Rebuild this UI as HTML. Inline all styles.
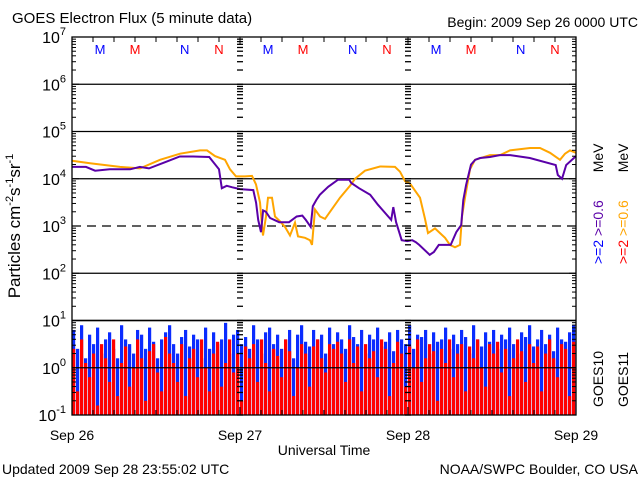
<!DOCTYPE html>
<html><head><meta charset="utf-8"><style>
body{margin:0;background:#fff;width:640px;height:480px;overflow:hidden}
svg{display:block;font-family:"Liberation Sans",sans-serif}
</style></head><body>
<svg id="chart" width="640" height="480" viewBox="0 0 640 480">
<rect width="640" height="480" fill="#fff"/>
<text x="12" y="23" font-size="15">GOES Electron Flux (5 minute data)</text>
<text x="638" y="27" font-size="14" text-anchor="end">Begin: 2009 Sep 26 0000 UTC</text>
<g id="bars"></g>
<g id="grid"></g>
<g id="lines"></g>
<g id="axes"></g>
<text transform="translate(20,226) rotate(-90)" font-size="17" text-anchor="middle">Particles cm<tspan font-size="11" dy="-7">-2</tspan><tspan dy="7">s</tspan><tspan font-size="11" dy="-7">-1</tspan><tspan dy="7">sr</tspan><tspan font-size="11" dy="-7">-1</tspan></text>
<text x="324" y="455" font-size="14" text-anchor="middle">Universal Time</text>
<text x="2" y="474" font-size="14">Updated 2009 Sep 28 23:55:02 UTC</text>
<text x="638" y="474" font-size="14" text-anchor="end">NOAA/SWPC Boulder, CO USA</text>
<g font-size="14">
<text transform="translate(603,264) rotate(-90)"><tspan fill="#0000ff">&gt;=2</tspan><tspan fill="#5a00a8"> &gt;=0.6</tspan><tspan dx="24" fill="#000"> MeV</tspan></text>
<text transform="translate(628,264) rotate(-90)"><tspan fill="#ff0000">&gt;=2</tspan><tspan fill="#ffa500"> &gt;=0.6</tspan><tspan dx="24" fill="#000"> MeV</tspan></text>
<text transform="translate(603,407) rotate(-90)">GOES10</text>
<text transform="translate(628,407) rotate(-90)">GOES11</text>
</g>
</svg>
<script>
const decadeLabels=[-1,0,1,2,3,4,5,6,7];
const dayLabels=["Sep 26","Sep 27","Sep 28","Sep 29"];
const purpleT=[0,2,3.3,5.4,8.3,9.7,11,13.3,15.4,17.3,19.6,21,21.4,22.1,22.9,24,25.9,26.3,26.6,27,27.3,27.7,28.3,29.6,31,32.1,32.9,33.4,34.1,34.4,34.9,35.4,36.6,38,39.6,39.9,41,42.6,43.7,45.6,45.9,46.3,47.1,47.9,48.6,49.1,49.6,51.1,51.7,52.4,54.1,54.9,55.6,55.9,56.3,57,57.6,58.3,59.7,61.1,62.6,65.4,69.1,69.4,70,70.6,72];
const purpleV=[4.25,4.25,4.17,4.2,4.2,4.25,4.22,4.35,4.47,4.47,4.46,4.2,3.8,3.85,3.82,3.78,3.76,3.49,3.13,2.87,3.33,3.3,3.17,3.08,3.08,3.2,3.22,3.13,2.98,3.42,3.55,3.66,3.83,3.98,3.98,3.91,3.8,3.66,3.45,3.13,3.4,3.08,2.7,2.68,2.7,2.66,2.6,2.39,2.45,2.6,2.6,2.87,3.02,3.55,3.87,4.3,4.4,4.44,4.46,4.5,4.5,4.44,4.29,4.08,4.0,4.29,4.48];
const orangeT=[0,2.57,6.86,9.71,12.57,15.43,18.29,19.29,20.43,21.86,22.57,23.43,24.71,25.71,26.29,26.86,27.14,27.29,27.71,28,28.57,29,29.71,30.43,31.14,31.86,32.29,33.29,34,34.29,34.71,35.43,36.14,36.86,38.29,39.71,40.43,41.86,44,46.14,46.86,47.57,48.29,49.71,50.43,50.86,51.86,52.57,53.29,54,54.71,55.43,55.71,56.14,56.86,57.57,59.71,61.14,62.57,65.43,66.86,68.29,69.71,70.43,71.14,72];
const orangeV=[4.38,4.33,4.25,4.22,4.4,4.53,4.6,4.6,4.48,4.4,4.2,4.05,4.05,4.06,3.88,3.5,3.0,2.8,3.2,3.6,3.6,3.2,3.1,2.98,2.8,3.07,2.78,2.75,2.7,2.6,3.35,3.2,3.15,3.3,3.6,3.85,4.0,4.17,4.26,4.25,4.15,3.95,3.9,3.6,3.15,2.85,2.95,2.85,2.75,2.6,2.55,2.6,3.2,3.6,4.2,4.4,4.5,4.5,4.6,4.65,4.65,4.55,4.4,4.53,4.6,4.55];
const blueBars=[0.8,0.4,0.9,0.2,0.7,0.5,0.85,0.3,0.6,0.75,0.4,0.2,0.9,0.6,0.5,0.3,0.8,0.7,0.4,0.85,0.55,0.2,0.6,0.75,0.9,0.5,0.3,0.65,0.8,0.45,0.7,0.6,0.2,0.85,0.4,0.75,0.5,0.6,0.95,0.3,0.7,0.8,0.5,0.65,0.4,0.9,0.6,0.3,0.75,0.85,0.5,0.7,0.4,0.6,0.8,0.2,0.7,0.9,0.55,0.45,0.8,0.6,0.7,0.3,0.85,0.5,0.75,0.6,0.4,0.9,0.65,0.5,0.8,0.3,0.7,0.6,0.85,0.45,0.55,0.75,0.35,0.8,0.6,0.5,0.9,0.4,0.7,0.65,0.8,0.3,0.75,0.55,0.6,0.85,0.4,0.7,0.5,0.8,0.65,0.3,0.9,0.6,0.45,0.75,0.55,0.8,0.4,0.7,0.6,0.85,0.5,0.3,0.75,0.65,0.9,0.45,0.6,0.8,0.5,0.7,0.35,0.85,0.6,0.55,0.75,0.9];
const redBars=[0.4,-0.5,0.6,0.1,-0.2,0.3,-0.8,0.5,0.2,-0.3,0.6,-0.6,0.1,0.45,-0.4,0.0,0.6,0.2,-0.7,0.35,0.5,-0.1,-0.5,0.65,0.3,0.1,-0.3,0.5,-0.6,0.2,0.4,-0.2,0.6,0.0,-0.5,0.3,0.55,-0.4,0.1,0.6,-0.1,0.3,-0.7,0.45,0.2,0.5,-0.3,0.6,0.1,-0.5,0.4,0.25,-0.2,0.6,0.35,-0.6,0.0,0.5,0.3,-0.4,0.45,0.6,0.2,-0.1,0.5,0.4,0.55,0.3,-0.3,0.6,0.1,0.45,-0.5,0.5,0.2,0.35,-0.2,0.6,0.4,-0.6,0.1,0.55,0.3,-0.4,0.45,0.0,0.6,-0.3,0.2,0.5,0.35,-0.7,0.4,0.1,0.6,-0.2,0.3,0.5,-0.5,0.45,0.2,0.6,0.0,-0.4,0.5,0.3,0.55,-0.1,0.4,-0.6,0.2,0.6,0.35,-0.3,0.5,0.1,0.45,-0.5,0.3,0.6,0.2,-0.2,0.5,0.4,-0.6,0.55];
const topLetters=["M","M","N","N"];
const letterHours=[4,9,16.1,21];

const NS="http://www.w3.org/2000/svg";
const X0=72,X1=576,YT=37,YB=415;
const xs=h=>X0+(h/72)*(X1-X0);
const ys=v=>YT+(7-v)*(YB-YT)/8;
function mk(tag,parent,attrs){const e=document.createElementNS(NS,tag);for(const k in attrs)e.setAttribute(k,attrs[k]);parent.appendChild(e);return e;}
const bars=document.getElementById('bars'),grid=document.getElementById('grid'),lines=document.getElementById('lines'),axes=document.getElementById('axes');
const bw=(X1-X0)/blueBars.length;
blueBars.forEach((v,i)=>{const r=mk('rect',bars,{x:X0+i*bw,y:ys(v),width:bw*0.8,height:YB-ys(v),fill:'#0a2cff'});

});
const rw=(X1-X0)/redBars.length;
redBars.forEach((v,i)=>{const r=mk('rect',bars,{x:X0+i*rw,y:ys(v),width:rw*0.8,height:YB-ys(v),fill:'#ff0000'});

});
decadeLabels.forEach(d=>{if(d===-1||d===7)return;const y=ys(d);
const l=mk('line',grid,{x1:X0,x2:X1,y1:y,y2:y,stroke:'#000','stroke-width':1.3});
if(d===3)l.setAttribute('stroke-dasharray','9,6');

});
function path(T,V,color,name){let d='';T.forEach((t,i)=>{d+=(i?'L':'M')+xs(t).toFixed(1)+','+ys(V[i]).toFixed(1);});
const p=mk('path',lines,{d:d,fill:'none',stroke:color,'stroke-width':2});

}
path(orangeT,orangeV,'#ffa500','line-goes11-0.6mev');
path(purpleT,purpleV,'#5a00a8','line-goes10-0.6mev');
const f=mk('rect',axes,{x:X0,y:YT,width:X1-X0,height:YB-YT,fill:'none',stroke:'#000','stroke-width':1.3});


const pt=mk('line',axes,{x1:X0,x2:X1,y1:ys(1),y2:ys(1),stroke:'#000','stroke-width':1.5});


decadeLabels.forEach(d=>{if(d===7)return;for(let m=1;m<10;m++){const y=ys(d+Math.log10(m));const len=m===1?7:4;
[[X0,X0+len],[X1-len,X1]].forEach(([a,b])=>{mk('line',axes,{x1:a,x2:b,y1:y,y2:y,stroke:'#000'});});
[1,2].forEach(k=>{const x=xs(24*k);mk('line',axes,{x1:x-3,x2:x+3,y1:y,y2:y,stroke:'#000','stroke-width':1.3});});}});
for(let h=3;h<72;h+=3){const x=xs(h);const len=h%24===0?8:5;
mk('line',axes,{x1:x,x2:x,y1:YB,y2:YB-len,stroke:'#000'});mk('line',axes,{x1:x,x2:x,y1:YT,y2:YT+len,stroke:'#000'});}
decadeLabels.forEach(d=>{const t=mk('text',axes,{x:66,y:ys(d)+6,'font-size':16,'text-anchor':'end'});


t.textContent='10';const s=mk('tspan',t,{'font-size':11,dy:-8});s.textContent=String(d);});
dayLabels.forEach((s,i)=>{const t=mk('text',axes,{x:xs(24*i),y:440,'font-size':14,'text-anchor':'middle'});


t.textContent=s;});
for(let day=0;day<3;day++)topLetters.forEach((L,i)=>{const t=mk('text',axes,{x:xs(day*24+letterHours[i]),y:54,'font-size':13,'text-anchor':'middle',fill:i%2?'#ff0000':'#0000ff'});


t.textContent=L;});
</script>
</body></html>
